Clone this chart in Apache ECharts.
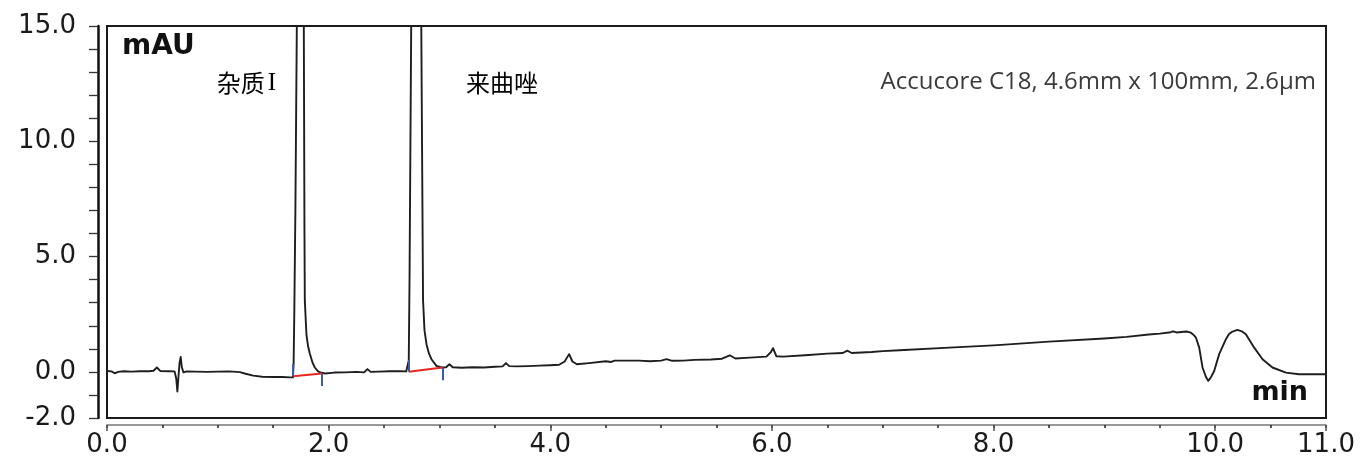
<!DOCTYPE html>
<html>
<head>
<meta charset="utf-8">
<title>来曲唑 色谱图</title>
<script src="https://cdn.jsdelivr.net/npm/echarts@6/dist/echarts.min.js"></script>
<style>
  html, body { margin: 0; padding: 0; background: #fff; }
  #chart { width: 1364px; height: 459px; }
</style>
</head>
<body>
<div id="chart"></div>
<script>
// Retention time (min) and detector signal (mAU) of the chromatogram trace
const retentionTime = [
  0.00, 0.04, 0.07, 0.10, 0.15, 0.22, 0.30, 0.38, 0.42, 0.45, 0.48, 0.55, 0.61,
  0.625, 0.635, 0.645, 0.655, 0.665, 0.675, 0.69, 0.72, 0.80, 0.90, 1.00, 1.10,
  1.20, 1.25, 1.32, 1.40, 1.50, 1.58, 1.65, 1.678,
  1.684, 1.69, 1.70, 1.713, 1.73, 1.745, 1.76, 1.776, 1.782, 1.785, 1.80, 1.815, 1.83,
  1.855, 1.875, 1.905, 1.936, 1.97, 2.05, 2.15, 2.25, 2.32, 2.35, 2.38, 2.45,
  2.55, 2.65, 2.70, 2.715,
  2.723, 2.73, 2.745, 2.77, 2.795, 2.82, 2.836, 2.852, 2.865, 2.883, 2.905,
  2.928, 2.973, 3.02, 3.06, 3.09, 3.12, 3.20, 3.30, 3.40, 3.50, 3.57, 3.60,
  3.63, 3.70, 3.80, 3.90, 4.00, 4.08, 4.13, 4.17, 4.20, 4.24, 4.35, 4.50, 4.55,
  4.58, 4.65, 4.80, 4.90, 5.00, 5.05, 5.10, 5.20, 5.30, 5.45, 5.55, 5.62, 5.67,
  5.80, 5.95, 5.99, 6.01, 6.04, 6.10, 6.30, 6.50, 6.64, 6.68, 6.72, 6.90, 7.00,
  7.15, 7.60, 8.00, 8.50, 9.00, 9.20, 9.40, 9.50, 9.60, 9.62, 9.65, 9.74,
  9.781, 9.806, 9.826, 9.856, 9.886, 9.915, 9.937, 9.96, 9.991, 10.036, 10.097,
  10.125, 10.156, 10.201, 10.24, 10.277, 10.352, 10.427, 10.517, 10.638, 10.757, 10.88, 11.00
];
const signalMau = [
  0.04, 0.02, -0.06, 0.00, 0.03, 0.01, 0.03, 0.03, 0.05, 0.19, 0.04, 0.03, 0.02,
  -0.30, -0.85, -0.20, 0.40, 0.65, 0.20, -0.02, 0.02, 0.01, 0.00, 0.01, 0.02,
  -0.01, -0.08, -0.16, -0.21, -0.22, -0.22, -0.24, -0.24,
  0.35, 2.5, 7.0, 15.0, 40.0, 70.0, 40.0, 15.0, 6.0, 3.1, 1.6, 1.1, 0.8,
  0.40, 0.19, 0.02, -0.04, -0.07, -0.03, -0.02, 0.00, -0.02, 0.12, 0.00, 0.01,
  0.03, 0.03, 0.02, 0.01,
  0.50, 4.0, 15.0, 45.0, 90.0, 45.0, 15.0, 3.1, 1.8, 1.2, 0.80,
  0.55, 0.26, 0.19, 0.20, 0.33, 0.20, 0.18, 0.20, 0.19, 0.22, 0.24, 0.38,
  0.25, 0.24, 0.25, 0.27, 0.29, 0.31, 0.45, 0.77, 0.45, 0.33, 0.38, 0.46, 0.43,
  0.49, 0.49, 0.49, 0.46, 0.49, 0.55, 0.48, 0.49, 0.52, 0.54, 0.57, 0.72, 0.58,
  0.62, 0.66, 0.85, 1.03, 0.68, 0.66, 0.72, 0.79, 0.82, 0.92, 0.82, 0.86, 0.90,
  0.94, 1.05, 1.15, 1.31, 1.45, 1.52, 1.62, 1.66, 1.72, 1.76, 1.71, 1.75,
  1.70, 1.60, 1.49, 1.05, 0.19, -0.20, -0.39, -0.25, 0.04, 0.77, 1.42,
  1.64, 1.75, 1.82, 1.76, 1.63, 1.05, 0.55, 0.19, -0.03, -0.10, -0.10, -0.10
];

// Peak integration: baseline segments [tStart, yStart, tEnd, yEnd]
const integrationBaselines = [
  [1.680, -0.19, 1.941, -0.07],
  [2.723, 0.01, 3.027, 0.19]
];
// Peak start / end markers [t, yFrom, yTo]
const peakStartMarks = [
  [1.680, -0.19, 0.33],
  [2.723, 0.01, 0.51]
];
const peakEndMarks = [
  [1.941, -0.07, -0.61],
  [3.027, 0.19, -0.36]
];

// Axis tick labels
const yLabelValues = [-2, 0, 5, 10, 15];
const xLabelValues = [0, 2, 4, 6, 8, 10, 11];
const xMinorTickValues = [];
for (let i = 0; i <= 22; i++) xMinorTickValues.push(i * 0.5);

// Peak names and column description
const peakNames = [['杂质', 'I'], ['来曲唑', '']];
const columnInfo = 'Accucore C18, 4.6mm x 100mm, 2.6μm';
const yUnit = 'mAU';
const xUnit = 'min';

const trace = retentionTime.map((t, i) => [t, signalMau[i]]);

const chart = echarts.init(document.getElementById('chart'), null, { renderer: 'canvas' });

const tickFont = { fontFamily: 'DejaVu Sans', fontSize: 26, color: '#1a1a1a' };

function peakLabel(parts) {
  return parts[1] ? '{c|' + parts[0] + '}{r|' + parts[1] + '}' : '{c|' + parts[0] + '}';
}
const peakRich = {
  c: { fontFamily: 'Noto Sans CJK SC', fontSize: 24, color: '#333' },
  r: { fontFamily: 'Liberation Serif', fontSize: 25, color: '#333', padding: [0, 0, 0, 3] }
};

chart.setOption({
  animation: false,
  backgroundColor: '#ffffff',
  grid: {
    left: 107, right: 38, top: 26, bottom: 41,
    show: true, borderColor: '#1a1a1a', borderWidth: 2,
    backgroundColor: 'transparent'
  },
  xAxis: [
    {
      type: 'value', min: 0, max: 11, interval: 0.5,
      position: 'bottom', offset: 7,
      splitLine: { show: false },
      axisLine: { show: true, onZero: false, lineStyle: { color: '#777', width: 1.5 } },
      axisTick: { show: true, length: 3, customValues: xMinorTickValues, lineStyle: { color: '#222', width: 1.5 } },
      axisLabel: {
        show: true, margin: 7, customValues: xLabelValues,
        formatter: v => v.toFixed(1), ...tickFont
      }
    },
    {
      type: 'value', min: 0, max: 11,
      position: 'bottom', offset: 7,
      splitLine: { show: false },
      axisLine: { show: false, onZero: false },
      axisTick: { show: true, length: 6, customValues: xLabelValues, lineStyle: { color: '#555', width: 1.5 } },
      axisLabel: { show: false }
    }
  ],
  yAxis: {
    type: 'value', min: -2, max: 15, interval: 1,
    offset: 9,
    splitLine: { show: false },
    axisLine: { show: true, onZero: false, lineStyle: { color: '#111', width: 2.5 } },
    axisTick: { show: true, length: 9, lineStyle: { color: '#333', width: 1.3 } },
    axisLabel: {
      margin: 22,
      formatter: v => (yLabelValues.indexOf(v) >= 0 ? v.toFixed(1) : ''),
      ...tickFont
    }
  },
  series: [
    {
      name: 'signal',
      type: 'line',
      data: trace,
      showSymbol: false,
      clip: true,
      lineStyle: { color: '#1e1e1e', width: 1.9, join: 'round' },
      z: 2
    },
    {
      name: 'baseline',
      type: 'lines',
      coordinateSystem: 'cartesian2d',
      data: integrationBaselines.map(b => ({ coords: [[b[0], b[1]], [b[2], b[3]]] })),
      lineStyle: { color: '#e8261f', width: 2, opacity: 1 },
      z: 3
    },
    {
      name: 'peak marks',
      type: 'lines',
      coordinateSystem: 'cartesian2d',
      data: peakStartMarks.concat(peakEndMarks).map(m => ({ coords: [[m[0], m[1]], [m[0], m[2]]] })),
      lineStyle: { color: '#3b5ba8', width: 2, opacity: 1 },
      z: 4
    }
  ],
  graphic: [
    {
      type: 'text', x: 122, y: 47,
      style: { text: yUnit, font: 'bold 28px "DejaVu Sans"', fill: '#111', align: 'left', verticalAlign: 'middle' }
    },
    {
      type: 'text', x: 1308, y: 393,
      style: { text: xUnit, font: 'bold 27px "DejaVu Sans"', fill: '#111', align: 'right', verticalAlign: 'middle' }
    },
    {
      type: 'text', x: 1316, y: 82,
      style: { text: columnInfo, font: '24px "Open Sans"', fill: '#3a3a3a', align: 'right', verticalAlign: 'middle' }
    },
    {
      type: 'text', x: 276, y: 83,
      style: { text: peakLabel(peakNames[0]), rich: peakRich, align: 'right', verticalAlign: 'middle' }
    },
    {
      type: 'text', x: 466, y: 83,
      style: { text: peakLabel(peakNames[1]), rich: peakRich, align: 'left', verticalAlign: 'middle' }
    }
  ]
});
</script>
</body>
</html>
